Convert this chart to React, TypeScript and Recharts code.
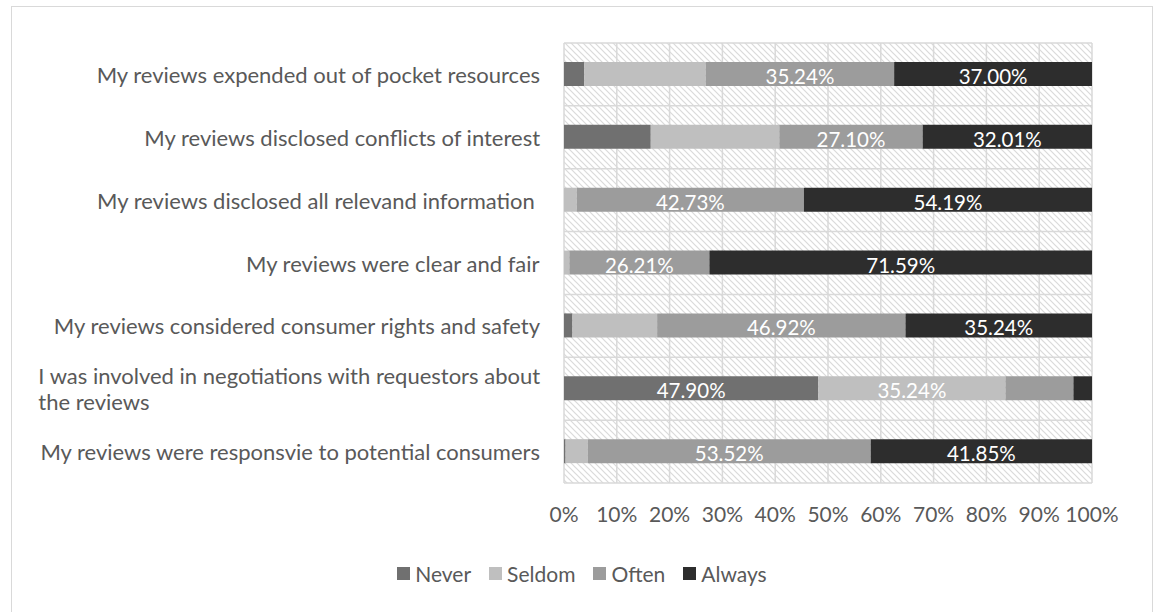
import { BarChart, Bar, XAxis, YAxis, CartesianGrid, Legend, LabelList } from "recharts";

const categories = [
  "My reviews expended out of pocket resources",
  "My reviews disclosed conflicts of interest",
  "My reviews disclosed all relevand information ",
  "My reviews were clear and fair",
  "My reviews considered consumer rights and safety",
  "I was involved in negotiations with requestors about\nthe reviews",
  "My reviews were responsvie to potential consumers",
];

const never = [3.8, 16.4, 0, 0, 1.6, 47.9, 0.3];
const seldom = [22.7, 24.3, 2.4, 1.0, 16.0, 35.24, 4.2];
const often = [35.24, 27.1, 42.73, 26.21, 46.92, 12.8, 53.52];
const always = [37.0, 32.01, 54.19, 71.59, 35.24, 3.5, 41.85];

const xTicks = [0, 0.1, 0.2, 0.3, 0.4, 0.5, 0.6, 0.7, 0.8, 0.9, 1];

const series = [
  { key: "never", name: "Never", color: "#707070" },
  { key: "seldom", name: "Seldom", color: "#bfbfbf" },
  { key: "often", name: "Often", color: "#9c9c9c" },
  { key: "always", name: "Always", color: "#2d2d2d" },
];

const data = categories.map((name, i) => ({
  name,
  never: never[i],
  seldom: seldom[i],
  often: often[i],
  always: always[i],
}));

const FONT = "Lato, sans-serif";
const TEXT = "#595959";
const LABEL_SIZE = 22;

let ctx: CanvasRenderingContext2D | null = null;
const measure = (s: string) => {
  if (!ctx) ctx = document.createElement("canvas").getContext("2d");
  if (!ctx) return s.length * 10;
  ctx.font = `${LABEL_SIZE}px Lato`;
  return ctx.measureText(s).width;
};

// multi-line labels: block right-aligned to the axis, lines left-aligned inside it
const CategoryTick = (props: any) => {
  const { x, y, payload } = props;
  const lines: string[] = String(payload.value).split("\n");
  const w = Math.max(...lines.map(measure));
  const lh = 26;
  const y0 = y - ((lines.length - 1) * lh) / 2;
  return (
    <g>
      {lines.map((l, i) => (
        <text
          key={i}
          x={x - w}
          y={y0 + i * lh}
          textAnchor="start"
          dominantBaseline="central"
          fill={TEXT}
          fontSize={LABEL_SIZE}
          fontFamily={FONT}
          style={{ whiteSpace: "pre" }}
        >
          {l}
        </text>
      ))}
    </g>
  );
};

const SegmentLabel = (props: any) => {
  const { x, y, width, height, value } = props;
  if (value < 25) return null;
  return (
    <text
      x={x + width / 2}
      y={y + height / 2 + 2}
      textAnchor="middle"
      dominantBaseline="central"
      fill="#ffffff"
      fontSize={20.5}
      fontFamily={FONT}
    >
      {value.toFixed(2)}%
    </text>
  );
};

const LegendContent = () => (
  <div
    style={{
      display: "flex",
      justifyContent: "center",
      alignItems: "center",
      gap: 18,
      height: 26,
      fontFamily: FONT,
      fontSize: 21,
      color: TEXT,
    }}
  >
    {series.map((s) => (
      <div key={s.key} style={{ display: "flex", alignItems: "center" }}>
        <span
          style={{
            width: 13,
            height: 13,
            background: s.color,
            display: "inline-block",
            marginRight: 5,
          }}
        />
        <span>{s.name}</span>
      </div>
    ))}
  </div>
);

export default function App() {
  return (
    <div
      style={{
        position: "absolute",
        left: 0,
        top: 0,
        width: 1158,
        height: 612,
        background: "#fff",
        overflow: "hidden",
      }}
    >
      <div
        style={{
          position: "absolute",
          left: 11,
          top: 6,
          width: 1140,
          height: 620,
          border: "1.5px solid #d9d9d9",
        }}
      />
      <div style={{ position: "absolute", left: 0, top: 0 }}>
        <BarChart
          width={1158}
          height={612}
          data={data}
          layout="vertical"
          stackOffset="expand"
          barSize={24}
          margin={{ top: 43, right: 66, bottom: 53, left: 0 }}
        >
          <defs>
            <pattern id="hatch" width="6" height="6" patternUnits="userSpaceOnUse">
              <rect width="6" height="6" fill="#ffffff" />
              <path d="M0,0 L6,6 M-1,5 L1,7 M5,-1 L7,1" stroke="#dadada" strokeWidth={1.2} />
            </pattern>
          </defs>
          <CartesianGrid
            fill="url(#hatch)"
            stroke="#d9d9d9"
            strokeWidth={1.5}
            horizontalCoordinatesGenerator={({ offset }: any) =>
              categories.map((_, i) => offset.top + (i * offset.height) / categories.length).concat(offset.top + offset.height)
            }
          />
          <XAxis
            type="number"
            domain={[0, 1]}
            ticks={xTicks}
            tickFormatter={(v: number) => `${Math.round(v * 100)}%`}
            axisLine={false}
            tickLine={false}
            tickSize={0}
            tickMargin={24}
            height={50}
            interval={0}
            tick={{ fill: TEXT, fontSize: 21, fontFamily: FONT }}
          />
          <YAxis
            type="category"
            dataKey="name"
            width={564}
            axisLine={false}
            tickLine={false}
            tickSize={0}
            tickMargin={23}
            interval={0}
            tick={<CategoryTick />}
          />
          <Legend
            verticalAlign="bottom"
            content={<LegendContent />}
            wrapperStyle={{ position: "absolute", left: 0, top: 560, width: 1164 }}
          />
          {series.map((s) => (
            <Bar
              key={s.key}
              dataKey={s.key}
              name={s.name}
              stackId="a"
              fill={s.color}
              isAnimationActive={false}
            >
              <LabelList dataKey={s.key} content={<SegmentLabel />} />
            </Bar>
          ))}
        </BarChart>
      </div>
    </div>
  );
}
